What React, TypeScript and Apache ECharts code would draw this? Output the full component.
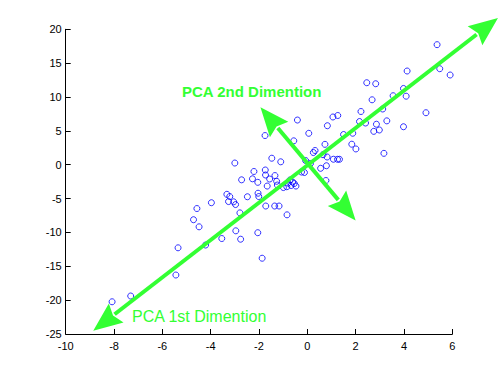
import React, { useEffect, useRef } from "react";
import * as echarts from "echarts";

const xValues: number[] = [
  5.37, 4.13, 5.48, 5.91, 2.46, 2.83, 3.98, 3.55, 4.09, 2.68,
  3.12, 2.22, 4.91, -0.41, 1.06, 1.26, 0.83, 2.16, 2.41, 2.86,
  3.29, 3.98, 2.75, 2.98, -1.75, 0.06, 1.5, 1.88, -0.56, 1.84,
  2.01, 0.73, 3.17, -1.47, -1.1, 0.32, 0.25, 0.65, 0.82, 1.08,
  1.25, 1.33, -0.07, 0.13, 0.55, 0.79, -0.24, -0.12, 0.77, -3.0,
  -2.72, -2.21, -1.74, -1.73, -1.34, -2.27, -2.05, -1.66, -1.27, -1.56,
  -0.72, -0.61, -0.54, -0.67, -0.85, -0.99, -0.8, -0.47, -1.24, -3.33,
  -3.21, -3.26, -3.05, -2.97, -3.97, -4.57, -4.71, -4.48, -2.79, -2.96,
  -2.76, -3.54, -2.48, -2.04, -2.01, -1.72, -1.35, -1.17, -0.84, -2.05,
  -1.87, -4.21, -5.35, -5.44, -7.31, -8.08,
];
const yValues: number[] = [
  17.73, 13.84, 14.18, 13.25, 12.11, 11.96, 11.26, 10.19, 10.12, 9.59,
  8.23, 7.86, 7.68, 6.6, 7.05, 7.27, 5.76, 6.38, 6.16, 5.98,
  6.48, 5.61, 4.93, 5.13, 4.31, 4.64, 4.46, 4.65, 3.53, 3.03,
  2.33, 3.01, 1.68, 0.96, 0.43, 2.1, 1.8, 1.48, 1.14, 0.81,
  0.8, 0.8, 0.62, 0.18, -0.53, -0.15, -1.08, -1.15, -2.33, 0.25,
  -2.23, -1.0, -0.78, -1.52, -1.6, -2.08, -2.6, -3.15, -2.45, -2.11,
  -2.26, -2.56, -2.78, -3.07, -3.25, -3.37, -2.7, -3.15, -3.0, -4.37,
  -4.7, -5.44, -5.48, -5.88, -5.61, -6.47, -8.12, -9.17, -7.11, -9.76,
  -11.0, -10.9, -4.73, -4.21, -4.7, -6.1, -6.1, -6.1, -7.4, -10.04,
  -13.81, -11.86, -12.27, -16.29, -19.39, -20.24,
];

// double-headed arrows: [x tip A, y tip A, x tip B, y tip B]
const arrowFirst: number[] = [-8.86, -24.52, 7.89, 21.67];
const arrowSecond: number[] = [-1.94, 8.48, 2.0, -8.24];

const xTicks = { min: -10, max: 6, interval: 2 };
const yTicks = { min: -25, max: 20, interval: 5 };

const labelSecond = "PCA 2nd Dimention";
const labelFirst = "PCA 1st Dimention";

const GREEN = "#33ff33";

export default function App() {
  const ref = useRef<HTMLDivElement>(null);
  useEffect(() => {
    if (!ref.current) return;
    const chart = echarts.init(ref.current, null, { renderer: "svg" });
    const points = xValues.map((x, i) => [x, yValues[i]]);
    const headLen = 29;
    const headHalf = 12;
    const notch = 4;
    const renderArrow = (params: any, api: any) => {
      const a = api.coord([api.value(0), api.value(1)]);
      const b = api.coord([api.value(2), api.value(3)]);
      const dx = b[0] - a[0];
      const dy = b[1] - a[1];
      const len = Math.sqrt(dx * dx + dy * dy);
      const ux = dx / len;
      const uy = dy / len;
      const nx = -uy;
      const ny = ux;
      const head = (tip: number[], dir: number) => {
        const bx = tip[0] - dir * ux * headLen;
        const by = tip[1] - dir * uy * headLen;
        return [
          tip,
          [bx + nx * headHalf, by + ny * headHalf],
          [bx + dir * ux * notch, by + dir * uy * notch],
          [bx - nx * headHalf, by - ny * headHalf],
        ];
      };
      const s1 = [a[0] + ux * (headLen - 2), a[1] + uy * (headLen - 2)];
      const s2 = [b[0] - ux * (headLen - 2), b[1] - uy * (headLen - 2)];
      return {
        type: "group",
        children: [
          {
            type: "line",
            shape: { x1: s1[0], y1: s1[1], x2: s2[0], y2: s2[1] },
            style: { stroke: GREEN, lineWidth: 4 },
          },
          {
            type: "polygon",
            shape: { points: head(b, 1) },
            style: { fill: GREEN },
          },
          {
            type: "polygon",
            shape: { points: head(a, -1) },
            style: { fill: GREEN },
          },
        ],
      };
    };
    chart.setOption({
      animation: false,
      backgroundColor: "#ffffff",
      textStyle: { fontFamily: "Liberation Sans, Arial, sans-serif" },
      grid: { left: 65.7, right: 46.7, top: 29.3, bottom: 41, containLabel: false },
      xAxis: {
        type: "value",
        min: xTicks.min,
        max: xTicks.max,
        interval: xTicks.interval,
        axisLine: { show: true, onZero: false, lineStyle: { color: "#000", width: 1 } },
        axisTick: { show: true, inside: true, length: 5, lineStyle: { color: "#000" } },
        axisLabel: { color: "#000", fontSize: 11, margin: 6, fontFamily: "Liberation Sans" },
        splitLine: { show: false },
      },
      yAxis: {
        type: "value",
        min: yTicks.min,
        max: yTicks.max,
        interval: yTicks.interval,
        axisLine: { show: true, onZero: false, lineStyle: { color: "#000", width: 1 } },
        axisTick: { show: true, inside: true, length: 5, lineStyle: { color: "#000" } },
        axisLabel: { color: "#000", fontSize: 11, margin: 4, fontFamily: "Liberation Sans" },
        splitLine: { show: false },
      },
      series: [
        {
          type: "scatter",
          data: points,
          symbol: "circle",
          symbolSize: 6,
          itemStyle: { color: "rgba(0,0,0,0)", borderColor: "#0000ff", borderWidth: 1 },
          z: 2,
        },
        {
          type: "custom",
          data: [arrowFirst, arrowSecond],
          renderItem: renderArrow,
          clip: false,
          silent: true,
          z: 3,
        },
      ],
      graphic: [
        {
          type: "text",
          x: 182,
          y: 91,
          z: 10,
          style: {
            text: labelSecond,
            fill: GREEN,
            font: "bold 15px 'Liberation Sans', Arial, sans-serif",
            verticalAlign: "middle",
          },
        },
        {
          type: "text",
          x: 132,
          y: 316,
          z: 10,
          style: {
            text: labelFirst,
            fill: GREEN,
            font: "16px 'Liberation Sans', Arial, sans-serif",
            verticalAlign: "middle",
          },
        },
      ],
    });
    return () => chart.dispose();
  }, []);
  return (
    <div
      ref={ref}
      style={{ position: "fixed", left: 0, top: 0, width: 499, height: 375, background: "#fff" }}
    />
  );
}
